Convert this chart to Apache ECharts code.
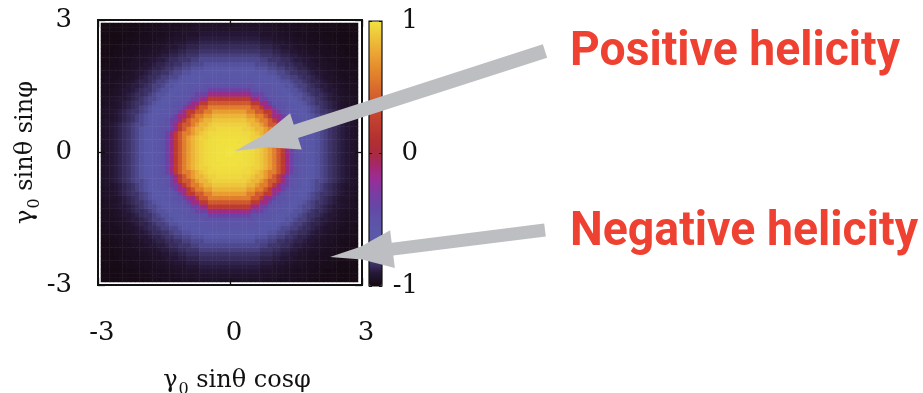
<!DOCTYPE html>
<html>
<head>
<meta charset="utf-8">
<script src="https://cdn.jsdelivr.net/npm/echarts@6/dist/echarts.min.js"></script>
<style>
  html, body { margin: 0; padding: 0; background: #fff; }
  #chart { width: 923px; height: 393px; }
</style>
</head>
<body>
<div id="chart"></div>
<script>
// Map extent in both directions (gamma0 sin(theta) cos/sin(phi))
const axisRange = [-3, 3];
const axisTicks = [-3, 0, 3];
// Colour-bar range and ticks
const colorRange = [-1, 1];
const colorTicks = [-1, 0, 1];
// Number of cells per side of the map
const cellsPerSide = 60;
// Map value on each ring, ring k = rounded distance from the centre in cells (0.1 units per cell)
const radialProfile = [
   1.00,  1.00,  0.99,  0.99,  0.98,  0.97,  0.96,  0.93,  0.89,  0.82,
   0.72,  0.58,  0.40,  0.20, -0.15, -0.36, -0.50, -0.55, -0.58, -0.62,
  -0.66, -0.72, -0.76, -0.80, -0.83, -0.85, -0.87, -0.89, -0.91, -0.93,
  -0.94, -0.95, -0.96, -0.96, -0.97, -0.97, -0.98, -0.98, -0.98, -0.99,
  -0.99, -0.99, -0.99
];
// Annotation labels
const annotations = ['Positive helicity', 'Negative helicity'];

// Palette from -1 to 1 in steps of 0.1
const palette = [
  '#140810', '#261838', '#48407e', '#5856a6', '#5a58a8', '#5e52a8', '#6646a6',
  '#7a3ca2', '#982e98', '#a42870', '#aa2a40', '#b23030', '#bc3a30', '#c64630',
  '#d0582e', '#da6c2c', '#e2822c', '#e89830', '#ecb036', '#eec83c', '#f0e440'
];

const cellIndex = Array.from({ length: cellsPerSide }, (_, i) => String(i));
const mid = (cellsPerSide - 1) / 2;
const cells = [];
for (let i = 0; i < cellsPerSide; i++) {
  for (let j = 0; j < cellsPerSide; j++) {
    const ring = Math.round(Math.hypot(i - mid, j - mid));
    cells.push([i, j, radialProfile[Math.min(ring, radialProfile.length - 1)]]);
  }
}

const serif = '"DejaVu Serif", "Liberation Serif", serif';
const labelFont = 'bold 49px Roboto, "Liberation Sans", sans-serif';
const tickStyle = { show: true, inside: true, length: 7, lineStyle: { color: '#111', width: 1.3 } };
const noLine = { show: false, onZero: false };
const titleRich = {
  t: { fontFamily: serif, fontSize: 24, lineHeight: 28, verticalAlign: 'top', color: '#111' },
  s: { fontFamily: serif, fontSize: 16, lineHeight: 16, padding: [13, 0, 0, 1], verticalAlign: 'top', color: '#111' }
};

// Horizontal squeeze so each annotation spans the wanted width
function squeeze(text, width) {
  const ctx = document.createElement('canvas').getContext('2d');
  ctx.font = labelFont;
  return width / ctx.measureText(text).width;
}

function arrowPoints(tail, tip, shaftW, headL, headW) {
  const dx = tail[0] - tip[0], dy = tail[1] - tip[1];
  const len = Math.hypot(dx, dy);
  const ux = dx / len, uy = dy / len, nx = -uy, ny = ux;
  const P = (a, b) => [tip[0] + ux * a + nx * b, tip[1] + uy * a + ny * b];
  return [
    P(0, 0), P(headL * 0.5, headW * 0.34), P(headL, headW), P(headL, shaftW / 2),
    P(len, shaftW / 2), P(len, -shaftW / 2), P(headL, -shaftW / 2),
    P(headL, -headW), P(headL * 0.5, -headW * 0.34)
  ];
}

const chart = echarts.init(document.getElementById('chart'), null, { renderer: 'canvas' });
const option = {
  backgroundColor: '#ffffff',
  animation: false,
  grid: [
    { left: 98, top: 20, width: 264, height: 265, show: true, borderColor: '#111', borderWidth: 2,
      backgroundColor: 'transparent', z: 4, containLabel: false, outerBoundsMode: 'none' },
    { left: 101, top: 23, width: 257, height: 259, containLabel: false, outerBoundsMode: 'none' },
    { left: 369, top: 21, width: 13, height: 265, show: true, borderColor: '#111', borderWidth: 1.2,
      backgroundColor: 'transparent', z: 5, containLabel: false, outerBoundsMode: 'none' }
  ],
  xAxis: [
    { gridIndex: 0, type: 'value', min: axisRange[0], max: axisRange[1], interval: 3, position: 'bottom', z: 5,
      axisLine: noLine, splitLine: { show: false }, axisTick: tickStyle,
      axisLabel: { margin: 35, fontFamily: serif, fontSize: 26, lineHeight: 26, color: '#111', padding: [0, 0, 0, 8],
        formatter: v => axisTicks.includes(v) ? String(v) : '' },
      name: '{t|γ}{s|0}{t| sinθ cosφ}', nameLocation: 'middle', nameGap: 84,
      nameTextStyle: { rich: titleRich, padding: [0, 0, 0, 14] } },
    { gridIndex: 0, type: 'value', min: axisRange[0], max: axisRange[1], interval: 3, position: 'top', z: 5,
      axisLine: noLine, splitLine: { show: false }, axisTick: tickStyle, axisLabel: { show: false } },
    { gridIndex: 1, type: 'category', data: cellIndex, show: false },
    { gridIndex: 2, type: 'value', show: false, axisLine: noLine }
  ],
  yAxis: [
    { gridIndex: 0, type: 'value', min: axisRange[0], max: axisRange[1], interval: 3, position: 'left', z: 5,
      axisLine: noLine, splitLine: { show: false }, axisTick: tickStyle,
      axisLabel: { margin: 26, fontFamily: serif, fontSize: 26, lineHeight: 26, color: '#111',
        formatter: v => axisTicks.includes(v) ? String(v) : '' },
      name: '{t|γ}{s|0}{t| sinθ sinφ}', nameLocation: 'middle', nameGap: 52, nameRotate: 90,
      nameTextStyle: { rich: titleRich } },
    { gridIndex: 0, type: 'value', min: axisRange[0], max: axisRange[1], interval: 3, position: 'right', z: 5,
      axisLine: noLine, splitLine: { show: false }, axisTick: tickStyle, axisLabel: { show: false } },
    { gridIndex: 1, type: 'category', data: cellIndex, show: false },
    { gridIndex: 2, type: 'value', min: colorRange[0], max: colorRange[1], interval: 1, position: 'right', z: 6,
      axisLine: noLine, splitLine: { show: false },
      axisTick: { show: true, inside: true, length: 3, lineStyle: { color: '#111', width: 1 } },
      axisLabel: { align: 'right', margin: 36, fontFamily: serif, fontSize: 26, lineHeight: 26, color: '#111',
        formatter: v => colorTicks.includes(v) ? String(v) : '' } },
    { gridIndex: 2, type: 'value', min: colorRange[0], max: colorRange[1], interval: 1, position: 'left', z: 6,
      axisLine: noLine, splitLine: { show: false },
      axisTick: { show: true, inside: true, length: 3, lineStyle: { color: '#111', width: 1 } },
      axisLabel: { show: false } }
  ],
  visualMap: {
    type: 'continuous', min: colorRange[0], max: colorRange[1], seriesIndex: 0,
    inRange: { color: palette }, calculable: false, hoverLink: false, showLabel: false,
    text: null, orient: 'vertical', left: 369, top: 21, itemWidth: 13, itemHeight: 265,
    padding: 0, z: 1
  },
  series: [{
    type: 'heatmap', xAxisIndex: 2, yAxisIndex: 2, data: cells,
    progressive: 0, itemStyle: { borderWidth: 0 }, emphasis: { disabled: true }, z: 2
  }],
  graphic: [
    { type: 'polygon', z: 20, shape: { points: arrowPoints([545, 51], [235, 151], 14, 64, 19) }, style: { fill: '#bdbec2' } },
    { type: 'polygon', z: 20, shape: { points: arrowPoints([545, 230], [330, 257], 13, 63, 19) }, style: { fill: '#bdbec2' } },
    { type: 'text', z: 21, x: 570, y: 53, scaleX: squeeze(annotations[0], 330),
      style: { text: annotations[0], fill: '#ef4131', font: labelFont, textVerticalAlign: 'middle' } },
    { type: 'text', z: 21, x: 570, y: 233, scaleX: squeeze(annotations[1], 348),
      style: { text: annotations[1], fill: '#ef4131', font: labelFont, textVerticalAlign: 'middle' } }
  ]
};
chart.setOption(option);
</script>
</body>
</html>
